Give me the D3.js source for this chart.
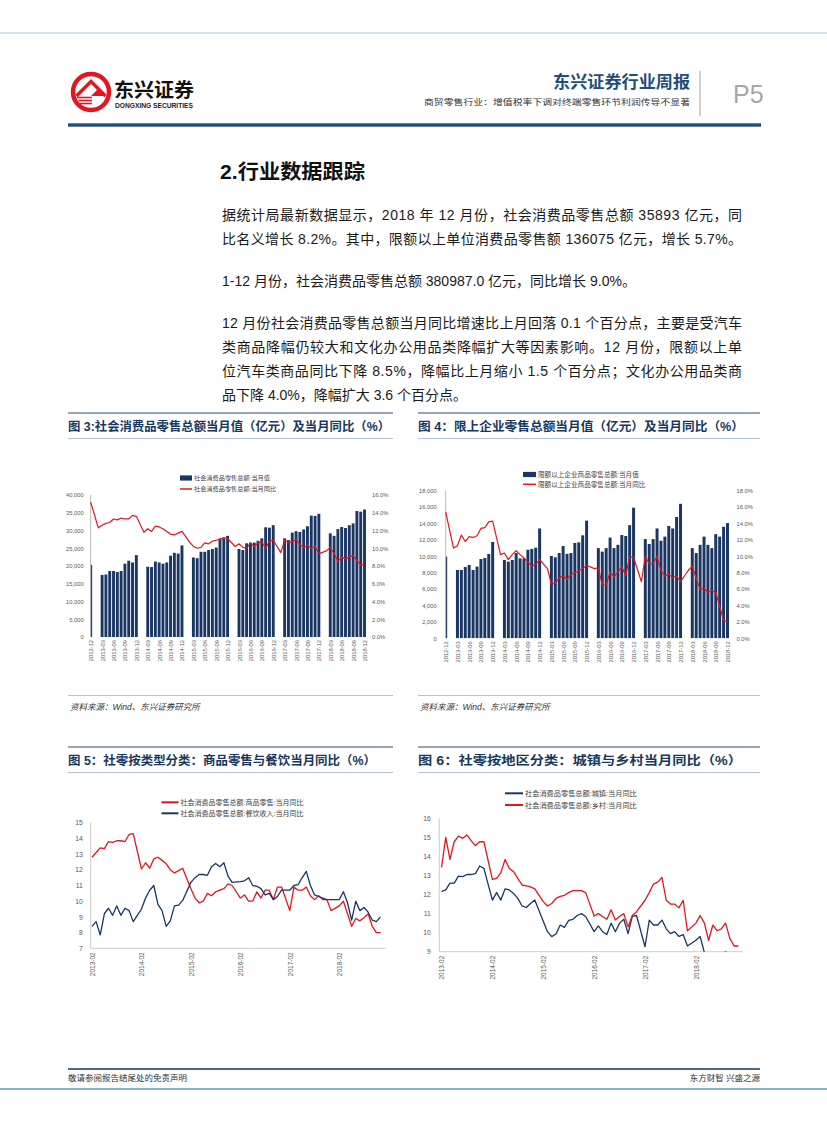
<!DOCTYPE html>
<html><head><meta charset="utf-8">
<script src="https://cdn.jsdelivr.net/npm/d3@7"></script>
<style>html,body{margin:0;padding:0;background:#fff;}svg{display:block;}</style>
</head><body>
<svg id="page" width="827" height="1122"></svg>
<script>
// ---------------- DATA ----------------
const months1 = [
 "2012-12",
 "2013-01","2013-02","2013-03","2013-04","2013-05","2013-06","2013-07","2013-08","2013-09","2013-10","2013-11","2013-12",
 "2014-01","2014-02","2014-03","2014-04","2014-05","2014-06","2014-07","2014-08","2014-09","2014-10","2014-11","2014-12",
 "2015-01","2015-02","2015-03","2015-04","2015-05","2015-06","2015-07","2015-08","2015-09","2015-10","2015-11","2015-12",
 "2016-01","2016-02","2016-03","2016-04","2016-05","2016-06","2016-07","2016-08","2016-09","2016-10","2016-11","2016-12",
 "2017-01","2017-02","2017-03","2017-04","2017-05","2017-06","2017-07","2017-08","2017-09","2017-10","2017-11","2017-12",
 "2018-01","2018-02","2018-03","2018-04","2018-05","2018-06","2018-07","2018-08","2018-09","2018-10","2018-11","2018-12"];
const xTicks1 = ["2012-12","2013-03","2013-06","2013-09","2013-12","2014-03","2014-06","2014-09","2014-12",
 "2015-03","2015-06","2015-09","2015-12","2016-03","2016-06","2016-09","2016-12","2017-03","2017-06","2017-09","2017-12",
 "2018-03","2018-06","2018-09","2018-12"];

// 图3 社会消费品零售总额 当月值(亿元) / 当月同比(%)
const retailValue = [20334,
 null,null,17500,17600,18600,18600,18300,18600,20650,21500,21000,23060,
 null,null,19800,19700,21250,21000,20650,21000,22900,23700,23500,25800,
 null,null,22400,22200,24000,24000,24500,24800,25200,27800,27800,28500,
 null,null,24800,24500,26400,26600,26600,27100,27800,30900,30800,31500,
 null,null,27800,27300,29400,29800,29600,30300,31200,34200,34100,34700,
 null,null,29200,28500,30400,31000,30700,31500,32000,35500,35300,35900];
const retailYoY = [15.2,
 null,12.3,12.6,12.8,12.9,13.3,13.2,13.4,13.3,13.3,13.7,13.6,
 null,11.8,12.2,11.9,12.5,12.4,12.2,11.9,11.6,11.5,11.7,11.9,
 null,10.7,10.2,10.0,10.1,10.6,10.5,10.8,10.9,11.0,11.2,11.1,
 null,10.2,10.5,10.1,10.0,10.6,10.2,10.6,10.7,10.0,10.8,10.9,
 null,9.5,10.9,10.7,10.7,11.0,10.4,10.1,10.3,10.0,10.2,9.4,
 null,9.7,10.1,9.4,8.5,9.0,8.8,9.0,9.2,8.6,8.1,8.2];
const leftTicks1 = [0,5000,10000,15000,20000,25000,30000,35000,40000];
const rightTicks1 = [0,2,4,6,8,10,12,14,16];

// 图4 限额以上企业商品零售总额 当月值 / 当月同比
const limitValue = [9960,
 null,null,8330,8330,8700,8940,8330,8740,9670,9800,10280,11750,
 null,null,9550,9350,9550,10400,9750,9750,10800,10900,11050,13400,
 null,null,10040,9880,10400,11250,10300,10400,11630,11700,12560,14350,
 null,null,11000,10570,11000,12280,11000,11400,12600,12480,13800,15930,
 null,null,12100,11500,12100,13400,11900,12400,13700,13400,14800,16400,
 null,null,11000,10400,11400,12400,11400,11000,12700,12400,13600,14050];
const limitYoY = [15.4,
 null,11.0,11.3,12.6,11.8,12.4,12.3,12.5,13.4,13.5,14.2,14.3,
 null,10.2,10.4,9.6,10.2,10.7,10.2,9.8,9.3,8.8,9.0,9.6,
 null,8.5,6.6,6.7,7.4,7.6,7.2,7.8,8.0,8.2,8.5,8.9,
 null,8.5,8.6,6.5,6.5,8.1,7.5,8.1,8.7,7.7,9.9,9.9,
 null,6.9,10.0,9.1,9.1,10.0,8.3,7.6,7.8,7.4,7.6,6.9,
 null,8.3,8.8,7.3,6.0,6.1,5.6,5.8,5.6,3.9,2.2,2.0];
const leftTicks2 = [0,2000,4000,6000,8000,10000,12000,14000,16000,18000];
const rightTicks2 = [0,2,4,6,8,10,12,14,16,18];

// 图5 / 图6 monthly categories
const months3 = [
 "2013-02","2013-03","2013-04","2013-05","2013-06","2013-07","2013-08","2013-09","2013-10","2013-11","2013-12",
 "2014-01","2014-02","2014-03","2014-04","2014-05","2014-06","2014-07","2014-08","2014-09","2014-10","2014-11","2014-12",
 "2015-01","2015-02","2015-03","2015-04","2015-05","2015-06","2015-07","2015-08","2015-09","2015-10","2015-11","2015-12",
 "2016-01","2016-02","2016-03","2016-04","2016-05","2016-06","2016-07","2016-08","2016-09","2016-10","2016-11","2016-12",
 "2017-01","2017-02","2017-03","2017-04","2017-05","2017-06","2017-07","2017-08","2017-09","2017-10","2017-11","2017-12",
 "2018-01","2018-02","2018-03","2018-04","2018-05","2018-06","2018-07","2018-08","2018-09","2018-10","2018-11","2018-12"];
const xTicks3 = ["2013-02","2014-02","2015-02","2016-02","2017-02","2018-02"];

// 图5 商品零售 / 餐饮收入 当月同比
const goodsYoY = [12.8,13.1,13.4,13.35,13.8,13.75,13.85,13.85,13.8,14.25,14.3,
 null,12.05,12.45,12.1,12.7,12.8,12.6,12.4,12.0,11.8,11.95,12.1,
 null,10.8,10.2,9.9,10.0,10.5,10.35,10.6,10.7,10.8,11.1,11.0,
 null,10.2,10.4,10.0,10.0,10.6,10.2,10.7,10.7,10.1,10.9,10.9,
 null,9.4,10.9,10.7,10.7,10.9,10.35,10.1,10.35,10.1,10.1,9.4,
 null,9.7,10.0,9.2,8.4,8.9,8.75,8.95,9.2,8.4,8.0,8.0];
const cateringYoY = [8.4,8.7,7.85,9.2,9.55,9.1,9.7,9.1,9.55,9.4,8.7,
 null,9.5,10.2,10.7,11.0,9.8,9.4,8.4,8.75,9.7,9.75,10.05,
 null,11.2,11.5,11.7,11.7,11.65,12.2,12.4,12.2,12.45,11.6,11.2,
 null,11.25,11.3,11.5,11.0,10.95,10.8,10.4,10.5,10.1,10.3,10.7,
 null,10.7,11.0,11.05,11.5,11.9,11.0,10.4,10.3,10.2,10.1,10.1,
 null,10.1,10.6,9.9,8.8,10.0,9.4,9.6,9.3,8.8,8.7,9.0];
const yTicks5 = [7,8,9,10,11,12,13,14,15];

// 图6 城镇 / 乡村 当月同比
const urbanYoY = [12.15,12.24,12.6,12.6,12.97,12.94,13.05,13.05,13.1,13.5,13.37,
 null,11.71,12.1,11.71,12.3,12.24,12.06,11.8,11.4,11.32,11.53,11.71,
 null,10.6,10.05,9.79,9.93,10.4,10.28,10.64,10.7,10.9,11.0,10.85,
 null,10.05,10.35,10.05,9.9,10.5,10.05,10.5,10.7,9.95,10.85,10.9,
 null,9.26,10.66,10.4,10.4,10.66,10.2,9.95,10.05,9.8,9.9,9.3,
 null,9.6,9.8,8.95,8.4,8.8,8.6,8.8,9.0,8.5,8.0,8.1];
const ruralYoY = [13.42,15.0,13.84,14.77,15.07,14.95,15.12,14.83,14.57,14.77,14.77,
 null,12.8,12.85,13.15,13.84,13.37,13.2,12.85,12.5,12.45,12.4,12.3,
 null,11.63,11.4,11.53,11.8,11.9,11.96,12.1,12.2,12.2,12.2,12.1,
 null,10.87,11.0,10.85,10.7,11.2,10.66,10.85,11.0,10.3,10.9,11.1,
 null,11.7,12.1,12.55,12.65,12.9,11.7,11.5,11.5,11.3,11.7,10.1,
 null,10.5,10.9,10.5,9.6,10.4,10.1,10.2,10.5,9.7,9.3,9.3];
const yTicks6 = [9,10,11,12,13,14,15,16];

// ---------------- STYLE ----------------
const FONT = "'Liberation Sans','Noto Sans CJK SC',sans-serif";
const NAVY = '#1a3763', RED = '#e3151f', GRAY = '#595959', TITLE = '#17375e';
const svg = d3.select('#page');
svg.append('rect').attr('width',827).attr('height',1122).attr('fill','#fff');

function txt(x, y, s, o={}) {
  const t = svg.append('text').attr('x',x).attr('y',y).text(s)
    .attr('font-family', o.family || FONT).attr('font-size', o.size || 12)
    .attr('fill', o.fill || '#222');
  if (o.weight) t.attr('font-weight', o.weight);
  if (o.anchor) t.attr('text-anchor', o.anchor);
  if (o.len) t.attr('textLength', o.len).attr('lengthAdjust', 'spacingAndGlyphs');
  if (o.style) t.attr('font-style', o.style);
  return t;
}
function hline(x1, x2, y, color, w) {
  svg.append('line').attr('x1',x1).attr('x2',x2).attr('y1',y).attr('y2',y).attr('stroke',color).attr('stroke-width',w);
}

// ---------------- HEADER ----------------
hline(0, 827, 33, '#a9cbd9', 1.2);
svg.append('circle').attr('cx',91).attr('cy',92).attr('r',18).attr('fill','#fff').attr('stroke',RED).attr('stroke-width',4.5);
svg.append('path').attr('d','M76.5,96 L91,81.5 L105.5,96').attr('fill','none').attr('stroke',RED).attr('stroke-width',3.4);
[97.5,100.5,103.5].forEach((y,i)=>hline(77+i*1.5, 92, y, RED, 1.6));
svg.append('path').attr('d','M91,96 L98,89 L105,96 Z').attr('fill',RED);
txt(114, 97, '东兴证券', {size:19, weight:700, fill:'#111', len:80});
txt(115, 107.5, 'DONGXING SECURITIES', {size:6.4, weight:700, fill:'#222', len:78});
txt(553, 88, '东兴证券行业周报', {size:16.5, weight:700, fill:'#1f4e79', len:137});
txt(424, 105, '商贸零售行业：增值税率下调对终端零售环节利润传导不显著', {size:7.6, fill:'#333', len:266});
svg.append('line').attr('x1',700).attr('x2',700).attr('y1',71).attr('y2',116).attr('stroke','#a0a0a0').attr('stroke-width',1);
txt(733, 103, 'P5', {size:25, fill:'#a6a6a6'});
svg.append('rect').attr('x',68).attr('y',123.3).attr('width',693).attr('height',3.4).attr('fill','#1f4e79');

// ---------------- BODY TEXT ----------------
txt(220, 179, '2.行业数据跟踪', {size:20, weight:700, fill:'#111', len:145});
const bodyLines = [
  {t:'据统计局最新数据显示，2018 年 12 月份，社会消费品零售总额 35893 亿元，同', y:220, full:true},
  {t:'比名义增长 8.2%。其中，限额以上单位消费品零售额 136075 亿元，增长 5.7%。', y:244, full:true},
  {t:'1-12 月份，社会消费品零售总额 380987.0 亿元，同比增长 9.0%。', y:286, full:false},
  {t:'12 月份社会消费品零售总额当月同比增速比上月回落 0.1 个百分点，主要是受汽车', y:328, full:true},
  {t:'类商品降幅仍较大和文化办公用品类降幅扩大等因素影响。12 月份，限额以上单', y:352, full:true},
  {t:'位汽车类商品同比下降 8.5%，降幅比上月缩小 1.5 个百分点；文化办公用品类商', y:376, full:true},
  {t:'品下降 4.0%，降幅扩大 3.6 个百分点。', y:400, full:false}
];
bodyLines.forEach(l => {
  const t = txt(222, l.y, l.t, {size:14, fill:'#1a1a1a'});
  if (l.full) t.attr('textLength', 520).attr('lengthAdjust','spacing');
});

// ---------------- CHART TITLES ----------------
function chartTitle(x1, x2, y, s, len) {
  hline(x1, x2, y-13, TITLE, 0.9);
  txt(x1, y+4.5, s, {size:12, weight:700, fill:TITLE, len:len});
  hline(x1, x2, y+12.5, '#9db3c9', 0.8);
}
chartTitle(68, 393, 426, '图 3:社会消费品零售总额当月值（亿元）及当月同比（%）', 322);
chartTitle(418, 760, 426, '图 4：限上企业零售总额当月值（亿元）及当月同比（%）', 326);
chartTitle(68, 393, 760, '图 5：社零按类型分类：商品零售与餐饮当月同比（%）', 308);
chartTitle(418, 760, 760, '图 6：社零按地区分类：城镇与乡村当月同比（%）', 324);
hline(68, 393, 695.5, '#9db3c9', 0.8);
hline(418, 760, 695.5, '#9db3c9', 0.8);
txt(70, 710, '资料来源：Wind、东兴证券研究所', {size:8.5, fill:'#333', style:'italic'});
txt(420, 710, '资料来源：Wind、东兴证券研究所', {size:8.5, fill:'#333', style:'italic'});

// ---------------- CHART HELPERS ----------------
function styleText(sel, size) {
  sel.selectAll('text').attr('font-size', size).attr('fill', GRAY).attr('font-family', FONT);
}
function bottomLabels(g, x, ticks, y, size, pad) {
  const ax = d3.axisBottom(x).tickValues(ticks).tickSize(0);
  const a = g.append('g').attr('transform', `translate(0,${y})`).call(ax);
  a.select('.domain').remove();
  a.selectAll('text').attr('transform','rotate(-90)').attr('text-anchor','end')
    .attr('x', -pad).attr('y', 0).attr('dy','0.35em');
  styleText(a, size);
}

function barLine(cfg) {
  const g = svg.append('g');
  const x = d3.scalePoint().domain(cfg.months).range([cfg.x0, cfg.x1]);
  const yL = d3.scaleLinear().domain([0, cfg.lMax]).range([cfg.yB, cfg.yT]);
  const yR = d3.scaleLinear().domain([0, cfg.rMax]).range([cfg.yB, cfg.yT]);
  const bw = x.step() * 0.76;
  const cid = cfg.id + 'clip';
  svg.append('clipPath').attr('id', cid).append('rect')
    .attr('x', cfg.x0).attr('y', cfg.yT - 5).attr('width', cfg.x1 - cfg.x0 + 5).attr('height', cfg.yB - cfg.yT + 5);
  const barData = cfg.months.map((m,i)=>({m, v:cfg.bars[i]})).filter(d=>d.v != null);
  g.append('g').attr('clip-path', `url(#${cid})`).selectAll('rect').data(barData).join('rect')
    .attr('x', d=>x(d.m)-bw/2).attr('width', bw)
    .attr('y', d=>yL(d.v)).attr('height', d=>cfg.yB - yL(d.v)).attr('fill', NAVY);
  g.append('line').attr('x1',cfg.x0).attr('x2',cfg.x0).attr('y1',cfg.yT).attr('y2',cfg.yB)
    .attr('stroke','#a6a6a6').attr('stroke-width',0.8);
  const aL = g.append('g').attr('transform', `translate(${cfg.x0},0)`)
    .call(d3.axisLeft(yL).tickValues(cfg.lTicks).tickFormat(d3.format(',')).tickSize(0).tickPadding(cfg.lPad));
  aL.select('.domain').remove(); styleText(aL, cfg.tf);
  const aR = g.append('g').attr('transform', `translate(${cfg.x1},0)`)
    .call(d3.axisRight(yR).tickValues(cfg.rTicks).tickFormat(d=>d.toFixed(1)+'%').tickSize(0).tickPadding(cfg.rPad));
  aR.select('.domain').remove(); styleText(aR, cfg.tf);
  const lineData = cfg.months.map((m,i)=>({m, v:cfg.line[i]})).filter(d=>d.v != null);
  g.append('path').datum(lineData).attr('fill','none').attr('stroke',RED).attr('stroke-width',1.2)
    .attr('stroke-linejoin','round')
    .attr('d', d3.line().x(d=>x(d.m)).y(d=>yR(d.v)));
  bottomLabels(g, x, cfg.xTicks, cfg.yB, cfg.xf, 3);
  const L = cfg.legend;
  g.append('rect').attr('x',L.x).attr('y',L.y1-2.6).attr('width',L.w).attr('height',5.2).attr('fill',NAVY);
  g.append('line').attr('x1',L.x).attr('x2',L.x+L.w).attr('y1',L.y2).attr('y2',L.y2).attr('stroke',RED).attr('stroke-width',1.5);
  g.append('text').attr('x',L.x+L.w+2).attr('y',L.y1).attr('dy','0.35em').text(cfg.names[0])
    .attr('font-size',L.size).attr('fill','#404040').attr('font-family',FONT);
  g.append('text').attr('x',L.x+L.w+2).attr('y',L.y2).attr('dy','0.35em').text(cfg.names[1])
    .attr('font-size',L.size).attr('fill','#404040').attr('font-family',FONT);
}

function twoLines(cfg) {
  const g = svg.append('g');
  const x = d3.scalePoint().domain(cfg.months).range([cfg.x0, cfg.x1]);
  const y = d3.scaleLinear().domain([cfg.yMin, cfg.yMax]).range([cfg.yB, cfg.yT]);
  g.append('line').attr('x1',cfg.ax).attr('x2',cfg.ax).attr('y1',cfg.yT).attr('y2',cfg.yB)
    .attr('stroke','#bfbfbf').attr('stroke-width',0.8);
  g.append('line').attr('x1',cfg.ax).attr('x2',cfg.axEnd).attr('y1',cfg.yB).attr('y2',cfg.yB)
    .attr('stroke','#bfbfbf').attr('stroke-width',0.8);
  const aL = g.append('g').attr('transform', `translate(${cfg.ax},0)`)
    .call(d3.axisLeft(y).tickValues(cfg.yTicks).tickFormat(d3.format('d')).tickSize(0).tickPadding(cfg.lPad));
  aL.select('.domain').remove(); styleText(aL, cfg.tf);
  const cid = cfg.id + 'clip';
  svg.append('clipPath').attr('id', cid).append('rect')
    .attr('x', cfg.ax).attr('y', cfg.yT - 10).attr('width', cfg.axEnd - cfg.ax + 5).attr('height', cfg.yB - cfg.yT + 10);
  const pl = g.append('g').attr('clip-path', `url(#${cid})`);
  cfg.series.forEach(s => {
    const data = cfg.months.map((m,i)=>({m, v:s.values[i]})).filter(d=>d.v != null);
    pl.append('path').datum(data).attr('fill','none').attr('stroke',s.color).attr('stroke-width',1.3)
      .attr('stroke-linejoin','round').attr('d', d3.line().x(d=>x(d.m)).y(d=>y(d.v)));
  });
  bottomLabels(g, x, cfg.xTicks, cfg.yB, cfg.xf, 4);
  cfg.series.forEach(s => {
    g.append('line').attr('x1',s.lx).attr('x2',s.lx+cfg.lw).attr('y1',s.ly).attr('y2',s.ly)
      .attr('stroke',s.color).attr('stroke-width',2);
    g.append('text').attr('x',s.lx+cfg.lw+2).attr('y',s.ly).attr('dy','0.35em').text(s.name)
      .attr('font-size',cfg.legSize).attr('fill','#404040').attr('font-family',FONT);
  });
}

// ---------------- CHARTS ----------------
barLine({id:'c1', months:months1, bars:retailValue, line:retailYoY,
  x0:90.7, x1:364.5, yT:495, yB:637, lMax:40000, rMax:16,
  lTicks:leftTicks1, rTicks:rightTicks1, lPad:7, rPad:7.5, tf:5.8, xf:5.8, xTicks:xTicks1,
  names:['社会消费品零售总额:当月值','社会消费品零售总额:当月同比'],
  legend:{x:180, y1:478, y2:489, w:12, size:6.2}});

barLine({id:'c2', months:months1, bars:limitValue, line:limitYoY,
  x0:445.7, x1:727.5, yT:490.7, yB:638.3, lMax:18000, rMax:18,
  lTicks:leftTicks2, rTicks:rightTicks2, lPad:9, rPad:9, tf:5.8, xf:5.8, xTicks:xTicks1,
  names:['限额以上企业商品零售总额:当月值','限额以上企业商品零售总额:当月同比'],
  legend:{x:523, y1:474.5, y2:484.3, w:13, size:6.6}});

twoLines({id:'c3', months:months3, x0:92, x1:380.5, ax:90.7, axEnd:386,
  yT:822.7, yB:948.3, yMin:7, yMax:15, yTicks:yTicks5, lPad:8, tf:6.8, xf:6.5, xTicks:xTicks3,
  lw:17, legSize:7,
  series:[
    {values:goodsYoY, color:RED, name:'社会消费品零售总额:商品零售:当月同比', lx:161.5, ly:802.3},
    {values:cateringYoY, color:NAVY, name:'社会消费品零售总额:餐饮收入:当月同比', lx:161.5, ly:813.3}
  ]});

twoLines({id:'c4', months:months3, x0:441.5, x1:738.3, ax:439.3, axEnd:743,
  yT:818.3, yB:951.7, yMin:9, yMax:16, yTicks:yTicks6, lPad:8.5, tf:6.8, xf:6.5, xTicks:xTicks3,
  lw:18, legSize:7.2,
  series:[
    {values:urbanYoY, color:NAVY, name:'社会消费品零售总额:城镇:当月同比', lx:505, ly:793.3},
    {values:ruralYoY, color:RED, name:'社会消费品零售总额:乡村:当月同比', lx:505, ly:805}
  ]});

// ---------------- FOOTER ----------------
hline(68, 760, 1069, '#17375e', 1.5);
txt(68, 1080.5, '敬请参阅报告结尾处的免责声明', {size:8.5, fill:'#333'});
txt(760, 1080.5, '东方财智 兴盛之源', {size:8.5, fill:'#333', anchor:'end'});
hline(0, 827, 1089, '#86b5c8', 2);
</script>
</body></html>
